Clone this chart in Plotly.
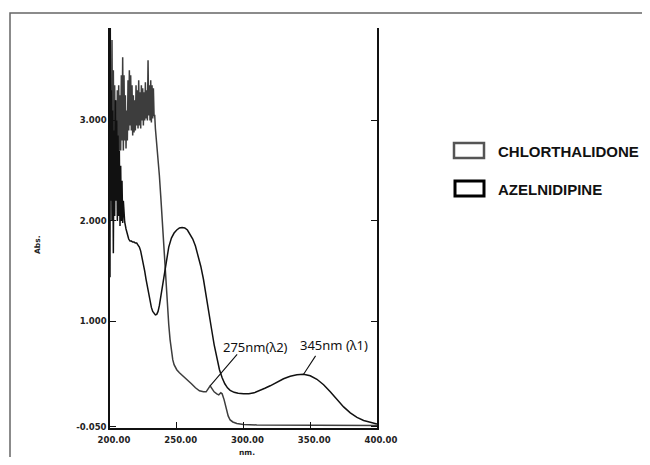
import plotly.graph_objects as go
import numpy as np

# ---------------- data ----------------
chl_nm = [200.0, 200.5, 201.0, 201.5, 202.0, 202.5, 203.0, 203.5, 204.0, 204.5,
          205.0, 205.5, 206.0, 206.5, 207.0, 207.5, 208.0, 208.5, 209.0, 209.5,
          210.0, 210.5, 211.0, 211.5, 212.0, 212.5, 213.0, 213.5, 214.0, 214.5,
          215.0, 215.5, 216.0, 216.5, 217.0, 217.5, 218.0, 218.5, 219.0, 219.5,
          220.0, 220.5, 221.0, 221.5, 222.0, 222.5, 223.0, 223.5, 224.0, 224.5,
          225.0, 225.5, 226.0, 226.5, 227.0, 227.5, 228.0, 228.5, 229.0, 229.5,
          230.0, 230.5, 231.0, 231.5, 232.0, 232.5, 233.0, 233.5,
          234, 235, 236, 237, 238, 239, 240, 241, 242, 243, 244, 245, 246, 247, 248,
          250, 252, 255, 258, 261, 264, 267, 270, 272, 273.5, 275, 276.5, 278, 280,
          281.5, 283, 284, 285.5, 287, 288.5, 290, 292, 295, 300, 310, 350, 400]
chl_abs = [2.30, 3.30, 2.50, 3.80, 2.30, 3.50, 2.60, 3.35, 2.45, 3.20,
           2.55, 3.30, 2.60, 3.35, 2.70, 3.25, 2.70, 3.45, 2.80, 3.63,
           2.70, 3.45, 2.80, 3.25, 2.72, 3.10, 2.80, 3.40, 2.90, 3.50,
           2.95, 3.45, 2.90, 3.35, 2.85, 3.25, 2.88, 3.20, 2.90, 3.35,
           2.95, 3.30, 2.92, 3.40, 2.95, 3.28, 2.92, 3.35, 3.00, 3.32,
           2.95, 3.28, 3.00, 3.38, 3.02, 3.30, 3.00, 3.60, 3.05, 3.35,
           3.00, 3.40, 2.98, 3.35, 3.02, 3.32, 3.05, 3.05,
           2.92, 2.78, 2.63, 2.45, 2.25, 2.02, 1.78, 1.57, 1.37, 1.16, 0.97, 0.82, 0.70, 0.62, 0.57,
           0.52, 0.49, 0.455, 0.42, 0.38, 0.34, 0.31, 0.30, 0.30, 0.33, 0.36, 0.33, 0.30, 0.28,
           0.27, 0.29, 0.28, 0.22, 0.13, 0.06, 0.02, 0.00, -0.015, -0.025, -0.03, -0.035, -0.035]

aze_nm = [200.0, 200.2, 200.5, 201.0, 201.5, 202.0, 202.5, 203.0, 203.5, 204.0,
          204.5, 205.0, 205.5, 206.0, 206.5, 207.0, 207.5, 208.0, 208.5, 209.0,
          209.5, 210.0, 210.5, 211, 212, 213, 214, 215, 216, 217, 218, 219, 220,
          221, 222, 223, 224, 225, 226, 227, 228, 229, 230, 231, 232, 233, 234,
          235, 236, 237, 238, 239, 240, 242, 244, 246, 248, 250, 252, 254, 256,
          258, 260, 262, 264, 266, 268, 270, 272, 274, 276, 278, 280, 282, 284,
          286, 288, 290, 293, 296, 300, 304, 308, 312, 316, 320, 325, 330, 335,
          340, 345, 350, 355, 360, 365, 370, 375, 380, 385, 390, 395, 400]
aze_abs = [1.44, 4.00, 2.20, 3.30, 2.00, 3.10, 1.68, 2.90, 2.05, 3.20,
           2.20, 3.00, 2.00, 2.85, 2.05, 2.70, 1.95, 2.55, 2.00, 2.40,
           1.98, 2.20, 2.00, 1.99, 1.92, 1.86, 1.82, 1.80, 1.80, 1.79, 1.79, 1.78, 1.78,
           1.76, 1.74, 1.70, 1.64, 1.57, 1.50, 1.42, 1.35, 1.27, 1.20, 1.14, 1.10, 1.075, 1.065,
           1.07, 1.10, 1.16, 1.24, 1.33, 1.42, 1.60, 1.74, 1.83, 1.88, 1.91, 1.93, 1.935, 1.93,
           1.91, 1.87, 1.82, 1.75, 1.66, 1.55, 1.42, 1.27, 1.10, 0.93, 0.77, 0.63, 0.52, 0.44,
           0.38, 0.34, 0.315, 0.295, 0.285, 0.28, 0.28, 0.29, 0.31, 0.335, 0.36, 0.395, 0.43, 0.455,
           0.47, 0.475, 0.46, 0.425, 0.37, 0.30, 0.22, 0.15, 0.09, 0.045, 0.015, -0.005, -0.02]

x_ticks = [200, 250, 300, 350, 400]
x_tick_text = ["200.00", "250.00", "300.00", "350.00", "400.00"]
y_ticks = [-0.05, 1.0, 2.0, 3.0]
y_tick_text = ["-0.050", "1.000", "2.000", "3.000"]

series_names = ["CHLORTHALIDONE", "AZELNIDIPINE"]
peak_labels = ["275nm(λ2)", "345nm (λ1)"]
peak_nm = [275, 345]

# ---------------- layout geometry ----------------
# The page body has an 8px margin, so the figure is drawn 8px smaller and
# every reference pixel position is shifted by that offset.
OFF = 8
W, H = 650 - OFF, 465 - 2 * OFF
L, R, T, B = 110 - OFF, 377 - OFF, 28 - OFF, 428 - OFF   # plot area (figure px)


def px(xref_px):
    return (xref_px - OFF - L) / (R - L)


def py(yref_px):
    return (B - (yref_px - OFF)) / (B - T)


CHL_COL = "#3d3d3d"
AZE_COL = "#111111"

fig = go.Figure()
fig.add_trace(go.Scatter(x=chl_nm, y=chl_abs, mode="lines", name=series_names[0],
                         line=dict(color=CHL_COL, width=1.5), showlegend=False))
fig.add_trace(go.Scatter(x=aze_nm, y=aze_abs, mode="lines", name=series_names[1],
                         line=dict(color=AZE_COL, width=1.5), showlegend=False))

tickfont = dict(family="DejaVu Sans", size=8.5, color="#222", weight="bold")
titlefont = dict(family="DejaVu Sans", size=7.5, color="#222", weight="bold")

fig.update_layout(
    width=W, height=H, autosize=False,
    margin=dict(l=L, r=W - R, t=T, b=H - B, autoexpand=False),
    paper_bgcolor="white", plot_bgcolor="white",
    xaxis=dict(range=[200, 400], tickvals=x_ticks, ticktext=x_tick_text,
               ticks="inside", ticklen=6, tickwidth=1.2, tickcolor="#111",
               showline=True, linecolor="#111", linewidth=1.5, mirror=False,
               showgrid=False, zeroline=False, tickfont=tickfont,
               ticklabelstandoff=3, ticklabelshift=4,
               automargin=False),
    yaxis=dict(range=[-0.06, 3.92], tickvals=y_ticks, ticktext=y_tick_text,
               ticks="inside", ticklen=6, tickwidth=1.2, tickcolor="#111",
               showline=True, linecolor="#111", linewidth=1.5, mirror="ticks",
               showgrid=False, zeroline=False, tickfont=tickfont,
               automargin=False),
)

# axis titles
fig.add_annotation(xref="paper", yref="paper", x=px(247), y=py(452),
                   text="nm.", showarrow=False, xanchor="center",
                   yanchor="middle", font=titlefont)
fig.add_annotation(xref="paper", yref="paper", x=px(37), y=py(245),
                   text="Abs.", showarrow=False, xanchor="center",
                   yanchor="middle", textangle=-90, font=titlefont)

# outer frame (right and bottom edges run off the page)
fig.add_shape(type="rect", xref="paper", yref="paper",
              x0=px(10), x1=px(670), y0=py(480), y1=py(13),
              line=dict(color="#666", width=1.5), layer="below")

# legend boxes and labels
fig.add_shape(type="rect", xref="paper", yref="paper",
              x0=px(454), x1=px(484), y0=py(158), y1=py(143),
              line=dict(color="#555", width=2.5))
fig.add_shape(type="rect", xref="paper", yref="paper",
              x0=px(455), x1=px(484), y0=py(196), y1=py(181),
              line=dict(color="#000", width=3))
legfont = dict(family="Liberation Sans", size=15, color="#111", weight="bold")
fig.add_annotation(xref="paper", yref="paper", x=px(496), y=py(151),
                   text=series_names[0], showarrow=False, xanchor="left",
                   yanchor="middle", font=legfont)
fig.add_annotation(xref="paper", yref="paper", x=px(496), y=py(189),
                   text=series_names[1], showarrow=False, xanchor="left",
                   yanchor="middle", font=legfont)

# peak labels with leader lines
peak_src = [(chl_nm, chl_abs), (aze_nm, aze_abs)]
label_centers = [(255, 347), (334, 345)]
arrow_tails = [(30, -35), (15, -23)]
annfont = dict(family="Noto Sans", size=13, color="#111")
for lbl, nm, (xs, ys), (cx, cy), (ax, ay) in zip(peak_labels, peak_nm, peak_src,
                                                    label_centers, arrow_tails):
    yv = float(np.interp(nm, xs, ys))
    fig.add_annotation(x=nm, y=yv, xref="x", yref="y", text=" ",
                       showarrow=True, arrowhead=0, arrowwidth=1.1,
                       arrowcolor="#111", ax=ax, ay=ay, standoff=0)
    fig.add_annotation(xref="paper", yref="paper", x=px(cx), y=py(cy),
                       text=lbl, showarrow=False, xanchor="center",
                       yanchor="middle", font=annfont)

fig.write_html("out.html")
